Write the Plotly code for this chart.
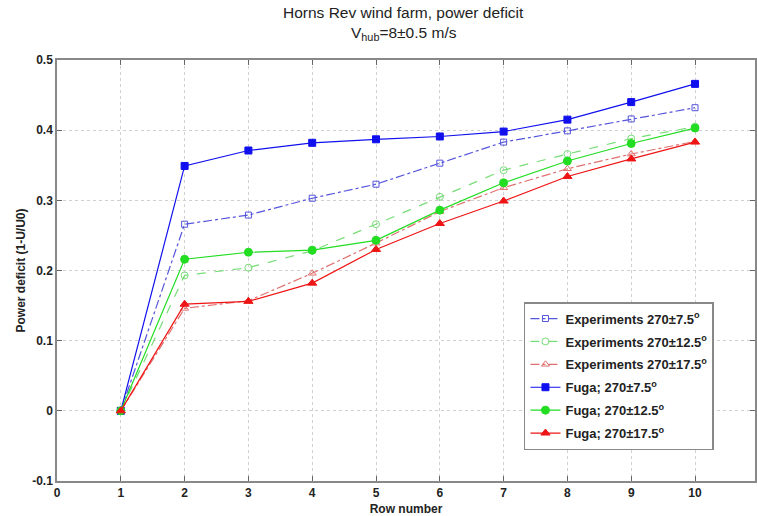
import plotly.graph_objects as go

rows = [1, 2, 3, 4, 5, 6, 7, 8, 9, 10]
exp_7_5 = [0.0, 0.266, 0.279, 0.303, 0.323, 0.353, 0.383, 0.399, 0.416, 0.432]
exp_12_5 = [0.0, 0.193, 0.204, 0.228, 0.266, 0.305, 0.343, 0.366, 0.388, 0.405]
exp_17_5 = [0.0, 0.146, 0.157, 0.196, 0.239, 0.284, 0.318, 0.345, 0.366, 0.384]
fuga_7_5 = [0.0, 0.349, 0.371, 0.382, 0.387, 0.391, 0.398, 0.415, 0.440, 0.466]
fuga_12_5 = [0.0, 0.216, 0.226, 0.229, 0.243, 0.286, 0.325, 0.356, 0.381, 0.403]
fuga_17_5 = [0.0, 0.152, 0.156, 0.182, 0.230, 0.267, 0.299, 0.334, 0.359, 0.383]

title_line1 = "Horns Rev wind farm, power deficit"
title_line2 = "V<sub>hub</sub>=8±0.5 m/s"

series = [
    ("Experiments 270±7.5<sup>o</sup>", exp_7_5, "#5555dd", "dashdot", "square-open", 6),
    ("Experiments 270±12.5<sup>o</sup>", exp_12_5, "#77dd77", "dash", "circle-open", 7),
    ("Experiments 270±17.5<sup>o</sup>", exp_17_5, "#e07070", "dashdot", "triangle-up-open", 7),
    ("Fuga; 270±7.5<sup>o</sup>", fuga_7_5, "#1010ee", "solid", "square", 7),
    ("Fuga; 270±12.5<sup>o</sup>", fuga_12_5, "#22dd22", "solid", "circle", 8),
    ("Fuga; 270±17.5<sup>o</sup>", fuga_17_5, "#ee1515", "solid", "triangle-up", 8),
]

FONT = "Liberation Sans, Arial"

fig = go.Figure()
for i, (name, vals, col, dash, sym, size) in enumerate(series):
    fig.add_trace(go.Scatter(
        x=rows, y=vals, name=name, mode="lines+markers", legendgroup=f"g{i}",
        line=dict(color=col, width=1.2, dash=dash),
        marker=dict(symbol=sym, size=size, color=col, line=dict(color=col, width=1)),
    ))

axis_common = dict(
    showline=True, linecolor="#888888", linewidth=1.5, mirror="ticks",
    ticks="inside", ticklen=5, tickcolor="#666666",
    showgrid=True, gridcolor="#d0d0d0", griddash="dot", gridwidth=1,
    zeroline=False,
    tickfont=dict(family=FONT, size=12, color="#222222", weight="bold"),
)

fig.update_layout(
    width=757, height=516,
    margin=dict(l=57, r=0, t=60, b=35),
    paper_bgcolor="white", plot_bgcolor="white",
    font=dict(family=FONT, color="#222222"),
    xaxis=dict(
        range=[0, 10.94], tickmode="array", tickvals=list(range(0, 11)),
        title=dict(text="Row number", standoff=5,
                   font=dict(size=12, weight="bold", family=FONT)),
        **axis_common,
    ),
    yaxis=dict(
        range=[-0.1, 0.5], tickmode="array",
        tickvals=[-0.1, 0, 0.1, 0.2, 0.3, 0.4, 0.5],
        ticktext=["-0.1", "0", "0.1", "0.2", "0.3", "0.4", "0.5"],
        title=dict(text="Power deficit (1-U/U0)", standoff=4,
                   font=dict(size=12, weight="bold", family=FONT)),
        **axis_common,
    ),
    legend=dict(
        x=0.669, y=0.425, xanchor="left", yanchor="top",
        bgcolor="white", bordercolor="#888888", borderwidth=1.5,
        font=dict(size=13, weight="bold", family=FONT, color="#222222"),
        itemwidth=30, tracegroupgap=3,
    ),
    showlegend=True,
    annotations=[
        dict(text=title_line1, xref="paper", yref="paper", x=0.497, y=1.0,
             xanchor="center", yanchor="bottom", yshift=37, showarrow=False,
             font=dict(size=15.5, family=FONT, color="#222222")),
        dict(text=title_line2, xref="paper", yref="paper", x=0.497, y=1.0,
             xanchor="center", yanchor="bottom", yshift=15, showarrow=False,
             font=dict(size=15.5, family=FONT, color="#222222")),
    ],
)

fig.write_html("out.html")
